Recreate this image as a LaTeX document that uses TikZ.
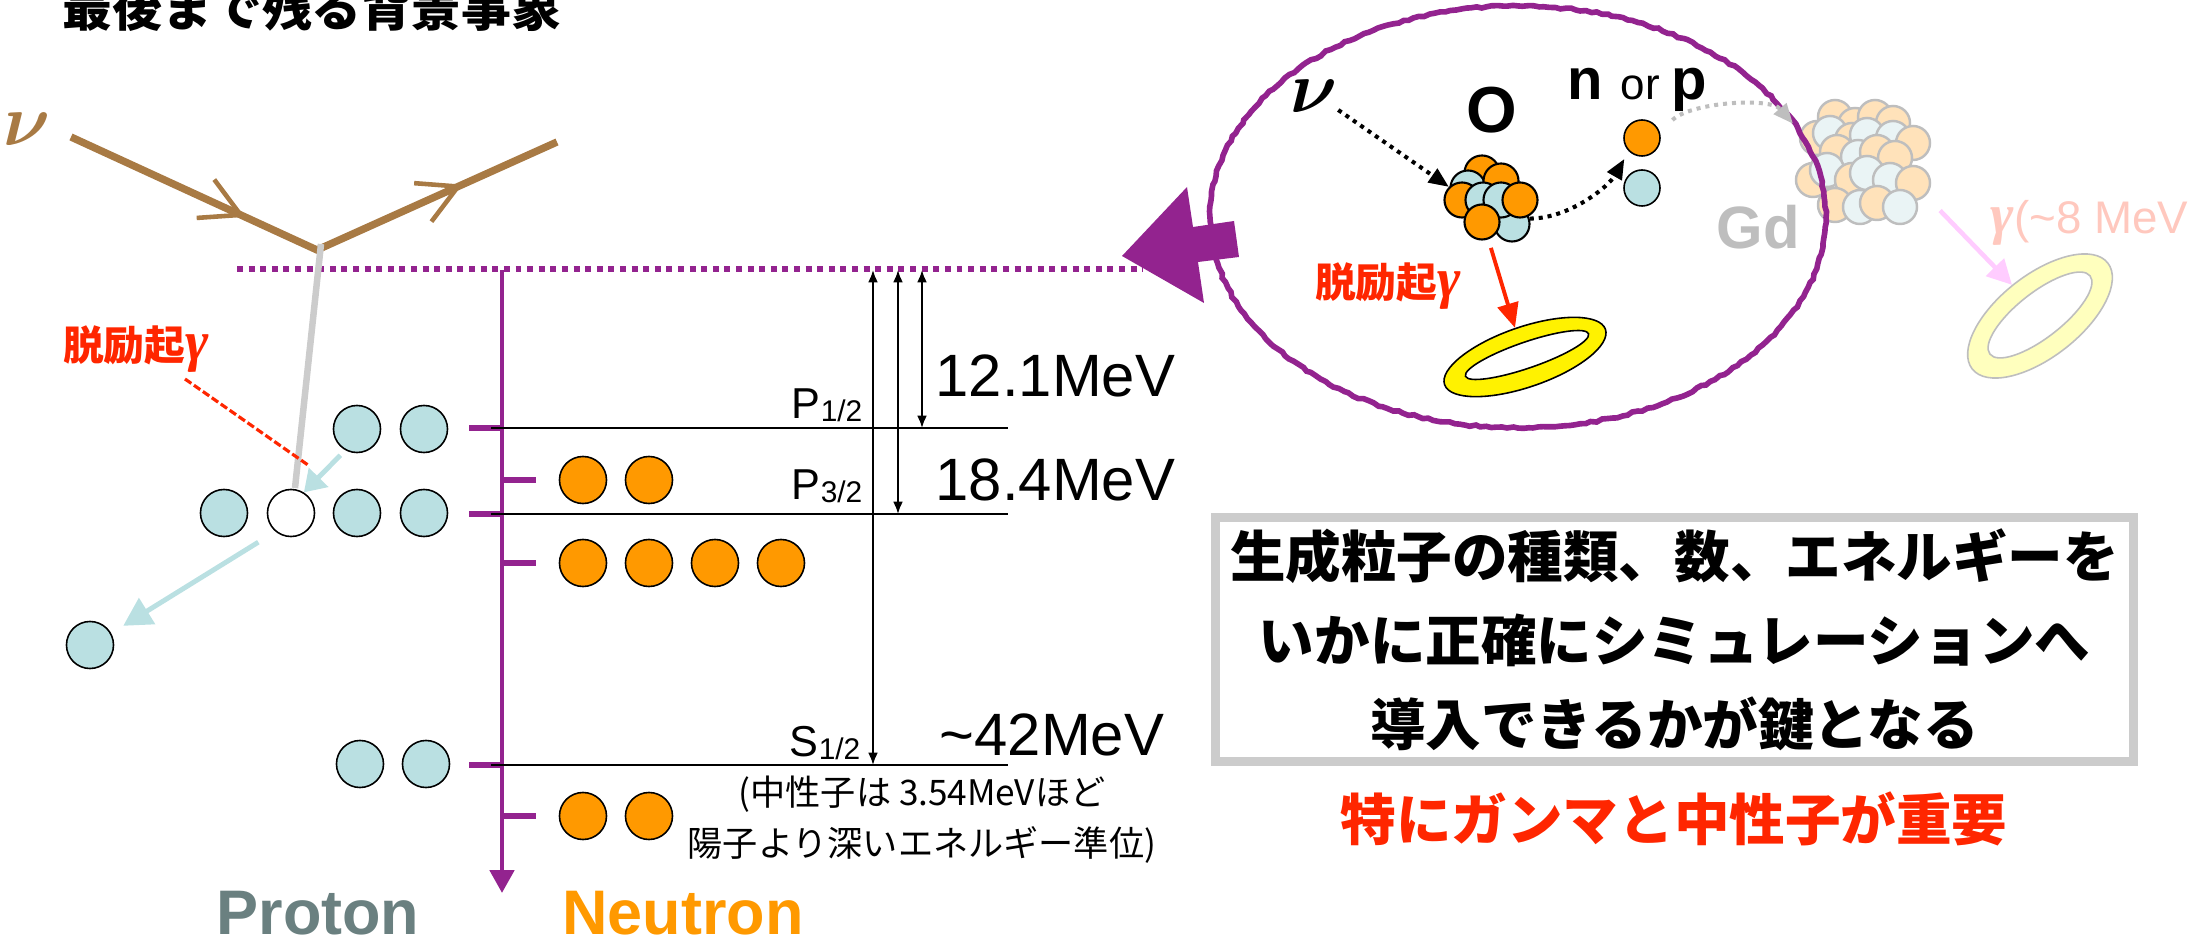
\documentclass[tikz,border=0pt]{standalone}
\usepackage{bm}
\usepackage{fontspec}
\setmainfont{Liberation Sans}
\newfontfamily\jp{Noto Sans CJK JP}
\newfontfamily\grk{Liberation Serif}
\usetikzlibrary{arrows.meta,shapes.geometric,decorations.pathmorphing,decorations.markings}

\definecolor{nubrown}{RGB}{168,122,68}
\definecolor{ferpurple}{RGB}{147,35,143}
\definecolor{pblue}{RGB}{186,224,226}
\definecolor{norange}{RGB}{255,153,0}
\definecolor{hotred}{RGB}{255,38,0}
\definecolor{protgray}{RGB}{106,128,128}
\definecolor{gdorange}{RGB}{255,226,186}
\definecolor{gdblue}{RGB}{234,244,245}
\definecolor{gdline}{RGB}{190,190,190}
\definecolor{faderose}{RGB}{255,200,190}
\definecolor{fadepink}{RGB}{255,204,255}
\definecolor{fadeyellow}{RGB}{255,255,190}

\newcommand{\lsub}[1]{\raisebox{-0.8pt}{\fontsize{8.5}{9}\selectfont #1}}
\newcommand{\gam}{{\grk\bfseries\itshape\fontsize{16}{16}\selectfont γ}}
\newcommand{\nuu}{{\fontsize{21}{21}\selectfont$\bm{\nu}$}}

\begin{document}
\begin{tikzpicture}[x=0.01cm, y=-0.01cm]
 \tikzset{
  nuc/.style={circle, draw, line width=.45pt, inner sep=0pt, minimum size=.47cm},
  prt/.style={nuc, fill=pblue},
  ntr/.style={nuc, fill=norange},
  hole/.style={nuc, fill=white},
  onuc/.style={minimum size=.35cm, line width=.6pt},
  gdo/.style={nuc, minimum size=.34cm, draw=gdline, line width=.7pt, fill=gdorange},
  gdb/.style={gdo, fill=gdblue},
  lvltick/.style={ferpurple, line width=1.7pt},
  lvl/.style={line width=.75pt},
  dist/.style={{Latex[length=3.5pt,width=2.8pt]}-{Latex[length=3.5pt,width=2.8pt]}, line width=.55pt},
  mev/.style={inner sep=0pt, font=\fontsize{17}{20}\selectfont},
  lvllbl/.style={inner sep=0pt, font=\fontsize{12.3}{14}\selectfont},
  nuline/.style={nubrown, line width=2.1pt},
  chev/.style={postaction={decorate, decoration={markings, mark=at position #1 with {\draw[nubrown, line width=1.3pt] (-11pt,6pt) -- (0pt,0pt) -- (-11pt,-6pt);}}}},
  deex/.style={inner sep=0pt, text=hotred, font=\jp\bfseries\fontsize{11.6}{13}\selectfont},
  parr/.style={pblue, line width=1.4pt, -{Triangle[length=6pt,width=7.5pt]}},
  dotarr/.style={line width=1.15pt, dash pattern=on 1.15pt off 1.4pt, -{Triangle[length=5.7pt,width=4.6pt]}},
  redarr/.style={hotred, line width=1.1pt, -{Triangle[length=7pt,width=6pt]}},
  halo/.style={ellipse, draw, line width=.45pt, inner sep=0pt},
  jpbig/.style={font=\jp\bfseries\fontsize{15.8}{23.9}\selectfont}
 }
 \useasboundingbox (0,0) rectangle (2190,943);

 \node[font=\jp\bfseries\fontsize{14.2}{16}\selectfont, inner sep=0pt] (title) at (312,7) {最後まで残る背景事象};

 % fermi level, axis and shells
 \coordinate (ef0) at (237,269);
 \coordinate (ef1) at (1143,269);
 \draw[ferpurple, line width=1.6pt, dash pattern=on 1.7pt off 1.6pt] (ef0) -- (ef1);
 \draw[ferpurple, line width=1.4pt, -{Triangle[length=6.5pt,width=6.8pt]}] (502,270) -- (502,893);
 \foreach \y in {428,514,765} { \draw[lvltick] (469,\y) -- (502,\y); }
 \foreach \y in {480,563,816} { \draw[lvltick] (502,\y) -- (536,\y); }
 \foreach \y/\n in {428/p12, 514/p32, 765/s12} {
  \coordinate (\n) at (491,\y);
  \draw[lvl] (\n) -- (1008,\y);
 }
 \foreach \x/\y in {873/765, 898/514, 922/428} { \draw[dist] (\x,270) -- (\x,\y); }

 \node[lvllbl, anchor=base east] (lp12) at (863,419) {P\lsub{1/2}};
 \node[lvllbl, anchor=base east] (lp32) at (863,500) {P\lsub{3/2}};
 \node[lvllbl, anchor=base east] (ls12) at (861,757) {S\lsub{1/2}};
 \node[mev, anchor=west] (e1) at (935,376) {12.1MeV};
 \node[mev, anchor=west] (e2) at (935,480) {18.4MeV};
 \node[mev, anchor=west] (e3) at (939,735) {\textasciitilde42MeV};
 \node[align=center, inner sep=0pt, font=\jp\fontsize{10}{14.5}\selectfont] (note) at (922,820) {(中性子は 3.54MeVほど\\陽子より深いエネルギー準位)};

 \node[font=\bfseries\fontsize{17.9}{20}\selectfont, text=protgray, inner sep=0pt] (lp) at (318,913) {Proton};
 \node[font=\bfseries\fontsize{17.9}{20}\selectfont, text=norange, inner sep=0pt] (ln) at (683,913) {Neutron};

 % nucleons on the shells
 \foreach \x [count=\i] in {357,424} { \node[prt] (pa\i) at (\x,429) {}; }
 \node[prt] (pb1) at (224,513) {};
 \node[hole] (hole) at (291,513) {};
 \foreach \x [count=\i from 3] in {357,424} { \node[prt] (pb\i) at (\x,513) {}; }
 \foreach \x [count=\i] in {360,426} { \node[prt] (pc\i) at (\x,764) {}; }
 \node[prt] (pout) at (90,645) {};
 \foreach \x [count=\i] in {583,649} { \node[ntr] (na\i) at (\x,480) {}; }
 \foreach \x [count=\i] in {583,649,715,781} { \node[ntr] (nb\i) at (\x,563) {}; }
 \foreach \x [count=\i] in {583,649} { \node[ntr] (nc\i) at (\x,816) {}; }

 % neutrino scattering
 \coordinate (nuIn) at (71,137);
 \coordinate (vtx) at (317,250);
 \coordinate (nuOut) at (557,142);
 \coordinate (gtop) at (321,244);
 \coordinate (hit) at (295,488);
 \node[text=nubrown, inner sep=0pt] (nu) at (27,129) {\nuu};
 \draw[nuline, chev=.35, chev=.797] (nuIn) -- (vtx) -- (nuOut);
 \draw[black!20, line width=1.85pt] (gtop) -- (hit);
 \node[deex] (deexL) at (136,349) {脱励起\gam};
 \coordinate (dA) at (185,379);
 \coordinate (dB) at (308,465);
 \draw[hotred, line width=.9pt, dash pattern=on 2.2pt off .9pt] (dA) -- (dB);
 \draw[parr, shorten <=2pt] (pa1.241) -- (hole.58);
 \draw[parr, -{Triangle[length=8pt,width=8.5pt]}, shorten <=5.7pt, shorten >=4pt] (hole.230) -- (pout.29);

 % Gd capture, seen faintly
 \foreach \x/\y/\c [count=\i] in {1835/117/o, 1855/125/o, 1875/117/o, 1893/123/o,
                                  1817/138/o, 1830/133/b, 1852/140/o, 1867/135/b, 1893/138/b, 1913/143/o,
                                  1837/152/o, 1858/157/b, 1877/152/o, 1895/158/o,
                                  1813/180/o, 1827/170/b, 1852/180/o, 1867/173/b, 1890/180/b, 1913/183/o,
                                  1835/205/o, 1860/207/b, 1877/203/o, 1900/207/b}
  { \node[gd\c] (g\i) at (\x,\y) {}; }
 \node[font=\bfseries\fontsize{17}{20}\selectfont, text=gdline, inner sep=0pt] (gd) at (1758,227) {Gd};
 \node[halo, draw=gdline, fill=fadeyellow, minimum width=1.72cm, minimum height=.82cm, rotate=38] (ring2) at (2040,316) {};
 \node[halo, draw=gdline, fill=white, minimum width=1.27cm, minimum height=.45cm, rotate=38] (ring2in) at (2040,315) {};
 \draw[fadepink, line width=1.3pt, -{Triangle[length=7pt,width=7pt]}, shorten <=5.8pt] (g20.-45) -- (ring2.94);
 \node[text=faderose, anchor=west, inner sep=0pt] (g8) at (1990,223) {\gam{\fontsize{13}{15}\selectfont(\textasciitilde 8 MeV}};

 % the oxygen event
 \coordinate (cell) at (1518,217);
 \draw[ferpurple, line width=1.6pt, decorate, decoration={random steps, segment length=1.5pt, amplitude=.3pt}] (cell) ellipse [x radius=308, y radius=211];
 \fill[ferpurple] (1122,256) -- (1187,187) -- (1193,227) -- (1234,221) -- (1239,257) -- (1198,262) -- (1204,303) -- cycle;

 \foreach \x/\y/\c [count=\i] in {1482/173/ntr, 1468/188/prt, 1501/181/ntr, 1462/200/ntr, 1483/200/prt,
                                  1512/224/prt, 1501/200/prt, 1520/200/ntr, 1482/222/ntr}
  { \node[\c, onuc] (o\i) at (\x,\y) {}; }
 \node[font=\bfseries\fontsize{18.5}{20}\selectfont, inner sep=0pt] (oxy) at (1492,110) {O};
 \node[inner sep=0pt] (nu2) at (1314,96) {\nuu};
 \node[inner sep=0pt, anchor=base west] (np) at (1567,100) {{\bfseries\fontsize{16.5}{18}\selectfont n}\hspace{5pt}{\fontsize{12.5}{14}\selectfont or}\hspace{3.4pt}{\bfseries\fontsize{16.5}{18}\selectfont p}};
 \node[ntr, minimum size=.36cm] (nn) at (1642,138) {};
 \node[prt, minimum size=.36cm] (pp) at (1642,188) {};

 \draw[dotarr] (nu2.-30) -- (o4.135);
 \draw[dotarr, shorten >=2.5pt] (o6.17) .. controls +(40,0) and +(-20,35) .. (nn.225);
 \draw[dotarr, gdline, shorten <=5pt, shorten >=3pt] (nn.17) .. controls +(30,-30) and +(-30,-35) .. (g5.160);

 \node[deex] (deexR) at (1388,286) {脱励起\gam};
 \node[halo, fill=yellow, minimum width=1.70cm, minimum height=.60cm, rotate=19] (ring) at (1525,357) {};
 \node[halo, fill=white, minimum width=1.30cm, minimum height=.26cm, rotate=19] (ringin) at (1527,355) {};
 \draw[redarr, shorten <=2.5pt] (o9.-70) -- (ring.north);

 % message
 \node[jpbig, draw=black!20, line width=2.56pt, minimum width=9.18cm, minimum height=2.44cm, align=center, inner sep=0pt] (msg) at (1674.5,639.5) {生成粒子の種類、数、エネルギーを\\いかに正確にシミュレーションへ\\導入できるかが鍵となる};
 \node[jpbig, text=hotred, inner sep=0pt] (key) at (1674,819) {特にガンマと中性子が重要};
\end{tikzpicture}
\end{document}
